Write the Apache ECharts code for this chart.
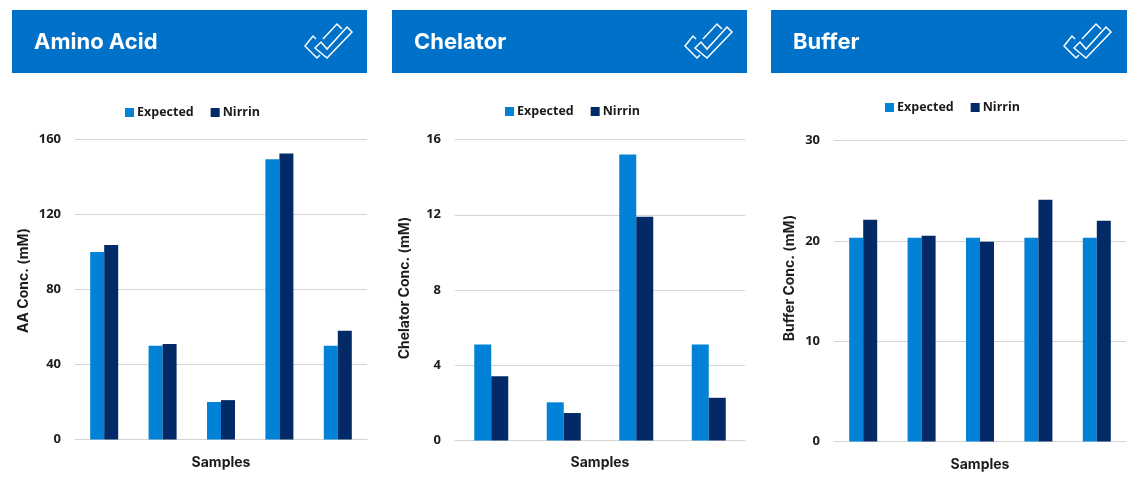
<!DOCTYPE html>
<html><head><meta charset="utf-8">
<style>html,body{margin:0;padding:0;background:#fff}#c{width:1144px;height:481px}</style>
<script src="https://cdn.jsdelivr.net/npm/echarts@6/dist/echarts.min.js"></script>
</head><body><div id="c"></div>
<script>
const seriesNames = ['Expected', 'Nirrin'];
const aaCategories = ['1', '2', '3', '4', '5'];
const aaExpected = [100, 50, 20, 149.5, 50];
const aaNirrin = [103.7, 51, 21, 152.5, 58];
const chelCategories = ['1', '2', '3', '4'];
const chelExpected = [5.1, 2.03, 15.2, 5.1];
const chelNirrin = [3.41, 1.46, 11.9, 2.27];
const bufCategories = ['1', '2', '3', '4', '5'];
const bufExpected = [20.3, 20.3, 20.3, 20.3, 20.3];
const bufNirrin = [22.1, 20.5, 19.9, 24.1, 22];
const panelTitles = ['Amino Acid', 'Chelator', 'Buffer'];
const yNames = ['AA Conc. (mM)', 'Chelator Conc. (mM)', 'Buffer Conc. (mM)'];
const xName = 'Samples';

const BLUE = '#0182d6', NAVY = '#022a66', BANNER = '#0071c8';
const panels = [
  {cats: aaCategories, a: aaExpected, b: aaNirrin, max: 160, step: 40, left: 75, right: 367, top: 139.5, bottom: 439.5, barW: 14, bx: 12, bw: 355, nameGap: 44, namePad: 18, xGap: 16, legY: 116, legX: 125},
  {cats: chelCategories, a: chelExpected, b: chelNirrin, max: 16, step: 4, left: 455, right: 745, top: 139.5, bottom: 440.5, barW: 17, bx: 392, bw: 355, nameGap: 43, namePad: 4, xGap: 15, legY: 115, legX: 505},
  {cats: bufCategories, a: bufExpected, b: bufNirrin, max: 30, step: 10, left: 834, right: 1126, top: 140.5, bottom: 441.5, barW: 14, bx: 771, bw: 356, nameGap: 37, namePad: 26, xGap: 16, legY: 111, legX: 885}
];
const font = '"Open Sans", "Noto Sans", sans-serif';
const titleFont = 'Inter, sans-serif';
const ink = '#1c1c1c';
const option = {
  animation: false,
  backgroundColor: '#fff',
  textStyle: {fontFamily: font},
  title: panels.map((p, i) => ({
    text: panelTitles[i], left: p.bx + 22, top: 28, padding: 0, z: 10,
    textStyle: {color: '#fff', fontFamily: titleFont, fontWeight: 'bold', fontSize: 22, lineHeight: 28}
  })),
  legend: panels.map(p => ({
    show: true, left: p.legX, top: p.legY - 10, itemWidth: 9, itemHeight: 9, itemGap: 17, padding: 0,
    icon: 'rect', data: seriesNames, selectedMode: false,
    textStyle: {fontFamily: font, fontWeight: 'bold', fontSize: 12.5, color: ink, padding: [0, 0, 0, -2]}
  })),
  grid: panels.map(p => ({left: p.left, width: p.right - p.left, top: p.top, height: p.bottom - p.top})),
  xAxis: panels.map((p, i) => ({
    type: 'category', gridIndex: i, data: p.cats,
    axisTick: {show: false}, axisLabel: {show: false},
    axisLine: {lineStyle: {color: '#d4d4d4', width: 1}},
    name: xName, nameLocation: 'middle', nameGap: p.xGap,
    nameTextStyle: {fontFamily: titleFont, fontWeight: 'bold', fontSize: 14, color: ink}
  })),
  yAxis: panels.map((p, i) => ({
    type: 'value', gridIndex: i, min: 0, max: p.max, interval: p.step,
    axisLine: {show: false}, axisTick: {show: false},
    axisLabel: {fontFamily: font, fontWeight: 'bold', fontSize: 13, color: ink, margin: 14},
    splitLine: {lineStyle: {color: '#d4d4d4', width: 1}},
    name: yNames[i], nameLocation: 'middle', nameRotate: 90, nameGap: p.nameGap,
    nameTextStyle: {fontFamily: titleFont, fontWeight: 'bold', fontSize: 14, color: ink, padding: [0, 0, 0, p.namePad]}
  })),
  series: panels.flatMap((p, i) => [
    {type: 'bar', name: seriesNames[0], xAxisIndex: i, yAxisIndex: i, data: p.a, barWidth: p.barW, barGap: 0, itemStyle: {color: BLUE}},
    {type: 'bar', name: seriesNames[1], xAxisIndex: i, yAxisIndex: i, data: p.b, barWidth: p.barW, barGap: 0, itemStyle: {color: NAVY}}
  ]),
  graphic: panels.flatMap(p => {
    const ox = p.bx + 283, oy = 15;
    const style = {stroke: '#fff', lineWidth: 1.5, fill: 'none'};
    return [
      {type: 'rect', z: 1, silent: true, shape: {x: p.bx, y: 10, width: p.bw, height: 63}, style: {fill: BANNER}},
      {type: 'polygon', z: 5, silent: true, x: ox, y: oy, shape: {points: [[20,33],[26,27],[32,34],[52,12],[57,17],[32,43]]}, style},
      {type: 'polyline', z: 5, silent: true, x: ox, y: oy, shape: {points: [[21,24],[18,21],[10,31],[22,43],[25,40]]}, style},
      {type: 'polyline', z: 5, silent: true, x: ox, y: oy, shape: {points: [[28,24],[42,9],[47,14]]}, style}
    ];
  })
};
echarts.init(document.getElementById('c'), null, {renderer: 'canvas'}).setOption(option);
</script></body></html>
